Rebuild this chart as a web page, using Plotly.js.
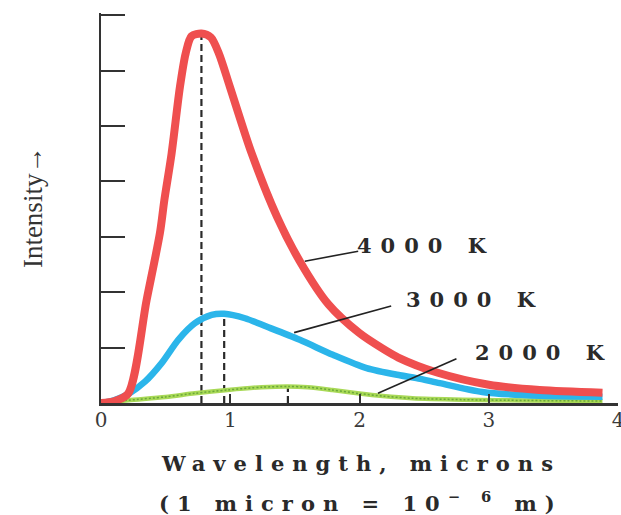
<!DOCTYPE html>
<html>
<head>
<meta charset="utf-8">
<script src="https://cdn.plot.ly/plotly-3.0.1.min.js"></script>
<style>
  html, body { margin: 0; padding: 0; background: #fff; }
  #chart { width: 621px; height: 515px; }
  .annotation[data-index="0"] text,
  .annotation[data-index="1"] text,
  .annotation[data-index="2"] text { letter-spacing: 9px; }
  .annotation[data-index="3"] text { letter-spacing: 8px; }
  .annotation[data-index="4"] text { letter-spacing: 8px; }
</style>
</head>
<body>
<div id="chart"></div>
<script>
// ---- data ----
// wavelength in microns, intensity in axis-tick units (7 ticks on the y axis)
var wl4000 = [0, 0.10, 0.21, 0.353, 0.456, 0.49, 0.546, 0.611, 0.655, 0.70, 0.777, 0.85, 0.912, 0.997, 1.165, 1.362, 1.538, 1.76, 2.00, 2.18, 2.30, 2.60, 3.00, 3.393, 3.88];
var int4000 = [0, 0.03, 0.17, 1.86, 3.07, 3.66, 4.50, 5.71, 6.31, 6.62, 6.67, 6.60, 6.31, 5.71, 4.51, 3.36, 2.56, 1.78, 1.26, 0.98, 0.82, 0.55, 0.33, 0.235, 0.186];

var wl3000 = [0, 0.10, 0.21, 0.34, 0.469, 0.598, 0.727, 0.856, 0.953, 1.114, 1.28, 1.538, 1.794, 2.055, 2.312, 2.44, 2.62, 2.95, 3.395, 3.88];
var int3000 = [0, 0.05, 0.16, 0.385, 0.72, 1.14, 1.44, 1.59, 1.61, 1.53, 1.38, 1.14, 0.87, 0.63, 0.50, 0.45, 0.36, 0.20, 0.13, 0.115];

var wl2000 = [0, 0.21, 0.50, 0.727, 0.98, 1.243, 1.446, 1.60, 1.79, 2.00, 2.18, 2.41, 2.80, 3.30, 3.88];
var int2000 = [0, 0.05, 0.11, 0.175, 0.235, 0.285, 0.30, 0.285, 0.235, 0.17, 0.125, 0.085, 0.06, 0.045, 0.036];

var seriesNames = ['4000 K', '3000 K', '2000 K'];
var xTickVals = [0, 1, 2, 3, 4];
var xTickText = ['0', '1', '2', '3', '4'];
var yTickVals = [0, 1, 2, 3, 4, 5, 6, 7];
var xTitle1 = 'Wavelength, microns';
var xTitle2 = '(1 micron = 10<sup>\u2212 6</sup> m)';
var yTitle = 'Intensity\u2192';

// ---- build traces ----
function peakOf(xs, ys) {
  var k = 0;
  for (var i = 1; i < ys.length; i++) if (ys[i] > ys[k]) k = i;
  return [xs[k], ys[k]];
}
var serif = 'DejaVu Serif, serif';
var ink = '#333333';

var traces = [];
var allX = [wl4000, wl3000, wl2000];
var allY = [int4000, int3000, int2000];

// dashed verticals from baseline to each peak
for (var s = 0; s < 3; s++) {
  var p = peakOf(allX[s], allY[s]);
  traces.push({
    x: [p[0], p[0]], y: [0, p[1]], mode: 'lines', hoverinfo: 'skip', showlegend: false,
    line: { color: '#2a2a2a', width: 2.2, dash: '7px,4px' }
  });
}

traces.push({
  x: wl2000, y: int2000, name: seriesNames[2], mode: 'lines', showlegend: false,
  line: { color: '#a9d957', width: 4.5, shape: 'spline', smoothing: 0.8 }
});
traces.push({
  x: wl2000, y: int2000, name: seriesNames[2], mode: 'lines', showlegend: false, hoverinfo: 'skip',
  line: { color: '#6aa83a', width: 1.5, dash: '2px,2px', shape: 'spline', smoothing: 0.8 }
});
traces.push({
  x: wl3000, y: int3000, name: seriesNames[1], mode: 'lines', showlegend: false,
  line: { color: '#2bb5ea', width: 6.5, shape: 'spline', smoothing: 0.8 }
});
traces.push({
  x: wl4000, y: int4000, name: seriesNames[0], mode: 'lines', showlegend: false,
  line: { color: '#ef4f4f', width: 8, shape: 'spline', smoothing: 0.8 }
});

var labelFont = { family: serif, size: 21, color: '#2a2a2a', weight: 'bold' };

var layout = {
  width: 621, height: 515,
  margin: { l: 101, r: 3, t: 13, b: 112, pad: 0 },
  paper_bgcolor: '#ffffff', plot_bgcolor: '#ffffff',
  showlegend: false,
  xaxis: {
    range: [0, 4], showgrid: false, zeroline: false,
    showline: true, linecolor: ink, linewidth: 2.5, mirror: false,
    ticks: 'inside', ticklen: 9, tickwidth: 2, tickcolor: ink,
    tickvals: xTickVals, ticktext: xTickText,
    tickfont: { family: serif, size: 20, color: '#3a3a3a' },
    ticklabelstandoff: -3, ticklabeloverflow: 'allow'
  },
  yaxis: {
    range: [0, 7.04], showgrid: false, zeroline: false,
    showline: true, linecolor: ink, linewidth: 2.5,
    ticks: 'inside', ticklen: 24, tickwidth: 2, tickcolor: ink,
    tickvals: yTickVals, showticklabels: false
  },
  shapes: [
    { type: 'line', xref: 'x', yref: 'y', x0: 1.577, y0: 2.56, x1: 1.99, y1: 2.74, line: { color: '#222', width: 1.6 } },
    { type: 'line', xref: 'x', yref: 'y', x0: 1.494, y0: 1.27, x1: 2.245, y1: 1.75, line: { color: '#222', width: 1.6 } },
    { type: 'line', xref: 'x', yref: 'y', x0: 2.143, y0: 0.175, x1: 2.75, y1: 0.80, line: { color: '#222', width: 1.6 } }
  ],
  annotations: [
    { text: seriesNames[0], xref: 'x', yref: 'y', x: 2.52, y: 2.85, showarrow: false, xanchor: 'center', yanchor: 'middle', font: labelFont },
    { text: seriesNames[1], xref: 'x', yref: 'y', x: 2.90, y: 1.87, showarrow: false, xanchor: 'center', yanchor: 'middle', font: labelFont },
    { text: seriesNames[2], xref: 'x', yref: 'y', x: 3.43, y: 0.92, showarrow: false, xanchor: 'center', yanchor: 'middle', font: labelFont },
    { text: xTitle1, xref: 'paper', yref: 'paper', x: 0.503, y: -0.155, showarrow: false, xanchor: 'center', yanchor: 'middle',
      font: { family: serif, size: 21, color: '#2a2a2a', weight: 'bold' } },
    { text: xTitle2, xref: 'paper', yref: 'paper', x: 0.503, y: -0.253, showarrow: false, xanchor: 'center', yanchor: 'middle',
      font: { family: serif, size: 21, color: '#2a2a2a', weight: 'bold' } },
    { text: yTitle, xref: 'paper', yref: 'paper', x: -0.131, y: 0.503, showarrow: false, textangle: -90,
      xanchor: 'center', yanchor: 'middle', font: { family: 'Liberation Serif, serif', size: 27, color: '#333' } }
  ]
};

Plotly.newPlot('chart', traces, layout, { staticPlot: true, displayModeBar: false });
</script>
</body>
</html>
